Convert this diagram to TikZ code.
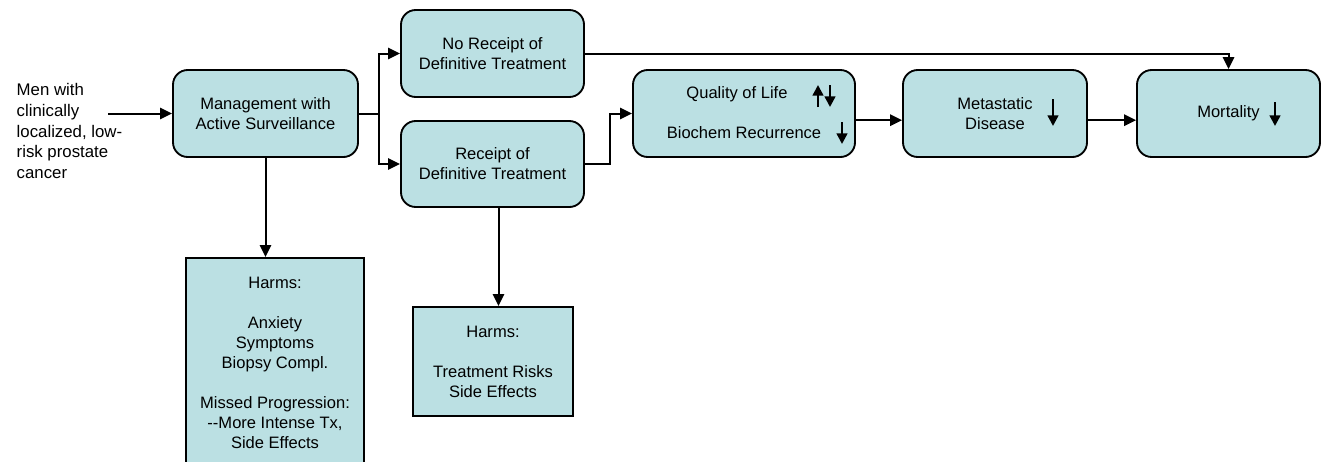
\documentclass[tikz,border=0pt]{standalone}
\usepackage{fontspec}
\setmainfont{Liberation Sans}
\usepackage{xcolor}
\definecolor{boxfill}{HTML}{BBE0E3}
\usetikzlibrary{arrows.meta}

\begin{document}
\begin{tikzpicture}[x=0.75pt, y=-0.75pt,
    font=\fontsize{12.4}{15}\selectfont,
    stage/.style={draw, line width=1.4pt, fill=boxfill, rounded corners=11pt, align=center, inner sep=0pt},
    harm/.style={draw, line width=1.4pt, fill=boxfill, align=center, inner sep=0pt},
    arr/.style={line width=1.5pt, -{Triangle[length=9pt, width=8.5pt]}},
    ind/.style={line width=1.8pt, -{Triangle[length=8pt, width=8pt]}}]
    % Page frame (the lower harms box runs off the page)
    \clip (0,0) rectangle (1327,461);

    % Population
    \node[align=left, anchor=west, font=\fontsize{12.6}{15.4}\selectfont] (men) at (12,131) {Men with\\clinically\\localized, low-\\risk prostate\\cancer};
    \coordinate (start) at (108,113.5);

    % Main chain of boxes
    \node[stage, minimum width=138.75pt, minimum height=65.25pt] (mgmt) at (265.5,113.5) {Management with\\Active Surveillance};
    \node[stage, minimum width=137.25pt, minimum height=65.25pt] (norec) at (492.5,53.5) {No Receipt of\\Definitive Treatment};
    \node[stage, minimum width=137.25pt, minimum height=64.5pt] (rec) at (492.5,164) {Receipt of\\Definitive Treatment};
    \node[stage, minimum width=166.5pt, minimum height=65.25pt] (qol) at (744,113.5) {};
    \node (qtxt) at (737,94) {Quality of Life};
    \node (btxt) at (744,133) {Biochem Recurrence};
    \node[stage, minimum width=138pt, minimum height=65.25pt] (meta) at (995,113.5) {Metastatic\\Disease};
    \node[stage, minimum width=137.25pt, minimum height=65.25pt] (mort) at (1228.5,113.5) {Mortality};

    % Harms boxes
    \node[harm, minimum width=133.5pt, minimum height=156.75pt] (harm1) at (275,362.5)
        {Harms:\\[15pt]Anxiety\\Symptoms\\Biopsy Compl.\\[15pt]Missed Progression:\\-{}-More Intense Tx,\\Side Effects};
    \node[harm, minimum width=120pt, minimum height=81.75pt] (harm2) at (493,361.5)
        {Harms:\\[15pt]Treatment Risks\\Side Effects};

    % Connectors
    \draw[arr] (start) -- (mgmt.west);
    \draw[line width=1.5pt] (mgmt.east) -- ++(15pt,0) coordinate (split);
    \draw[arr] (split) |- (norec.west);
    \draw[arr] (split) |- (rec.west);
    \draw[arr] (norec.east) -| (mort.north);
    \draw[arr] (rec.east) -- ++(18.75pt,0) |- (qol.west);
    \draw[arr] ([yshift=-5pt]qol.east) -- ([yshift=-5pt]meta.west);
    \draw[arr] ([yshift=-5pt]meta.east) -- ([yshift=-5pt]mort.west);
    \draw[arr] (mgmt.south) -- (mgmt.south |- harm1.north);
    \draw[arr] ([xshift=4.5pt]rec.south) -- ([xshift=4.5pt]rec.south |- harm2.north);

    % Up/down indicators
    \draw[ind] (818,107) -- (818,85);
    \draw[ind] (830,85) -- (830,107);
    \draw[ind] (842,122) -- (842,144);
    \draw[ind] (1053,99) -- (1053,126);
    \draw[ind] (1275,102) -- (1275,126);
\end{tikzpicture}
\end{document}
